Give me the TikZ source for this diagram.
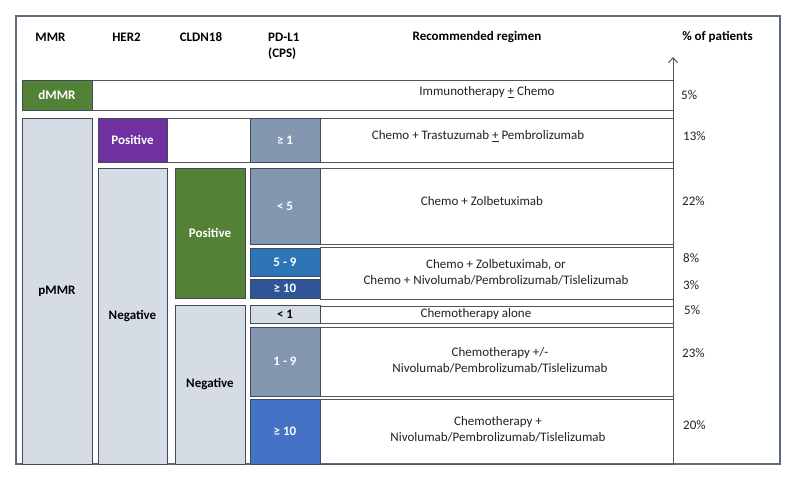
\documentclass[tikz,border=0pt]{standalone}
\usepackage{fontspec}
\setmainfont{Carlito}
\usetikzlibrary{arrows.meta}
\definecolor{grn}{HTML}{538135}
\definecolor{purp}{HTML}{7030A0}
\definecolor{slate}{HTML}{8497B0}
\definecolor{light}{HTML}{D6DCE5}
\definecolor{midblue}{HTML}{2E75B6}
\definecolor{darkblue}{HTML}{2F5597}
\definecolor{blue}{HTML}{4472C4}
\definecolor{bordc}{HTML}{3F4B5C}
\definecolor{rowc}{HTML}{555555}
\definecolor{framec}{HTML}{5A6A80}
\definecolor{txtc}{HTML}{222222}
\newcommand{\myfs}{\fontsize{13}{16}\selectfont}
\begin{document}
\begin{tikzpicture}[x=1pt,y=-1pt,
  box/.style={draw=bordc, line width=0.9pt, inner sep=0pt, font=\myfs\bfseries, text=white, anchor=center},
  rowbox/.style={draw=rowc, line width=0.8pt, inner sep=0pt},
  txt/.style={font=\myfs, text=txtc, align=center, inner sep=0pt},
  hdr/.style={font=\myfs\bfseries, inner sep=0pt},
  pct/.style={font=\myfs, anchor=west, inner sep=0pt, text=txtc}]
\useasboundingbox (0,0) rectangle (800,485);
\fill[white] (0,0) rectangle (800,485);
% frame
\node[draw=framec, line width=1.3pt, minimum width=764pt, minimum height=448pt, inner sep=0pt] (frame) at (398,240) {};
% headers
\node[hdr] (hmmr) at (50.5,37) {MMR};
\node[hdr] (hher) at (126.5,37) {HER2};
\node[hdr] (hcld) at (201,37) {CLDN18};
\node[hdr, anchor=west] (hpd) at (268,37) {PD-L1};
\node[hdr, anchor=west] (hcps) at (268,54) {(CPS)};
\node[hdr] (hreg) at (477,37) {Recommended regimen};
\node[hdr] (hpct) at (717.5,37) {\% of patients};
% row boxes
\node[rowbox, minimum width=581pt, minimum height=30pt] (r0) at (382.5,95) {};
\node[rowbox, minimum width=506pt, minimum height=44pt] (r1) at (420,140) {};
\node[rowbox, minimum width=353pt, minimum height=76pt] (r2) at (496.5,206) {};
\node[rowbox, minimum width=353pt, minimum height=52pt] (r3) at (496.5,273) {};
\node[rowbox, minimum width=353pt, minimum height=17pt] (r4) at (496.5,314.5) {};
\node[rowbox, minimum width=353pt, minimum height=69pt] (r5) at (496.5,361.5) {};
\node[rowbox, minimum width=353pt, minimum height=65pt] (r6) at (496.5,431.5) {};
% arrow
\coordinate (abot) at (673,464);
\coordinate (atop) at (673,57);
\draw[rowc, line width=1pt, -{Straight Barb[length=5pt,width=9pt]}] (abot) -- (atop);
% MMR
\node[box, fill=grn, minimum width=70pt, minimum height=30pt] (dmmr) at (57,95) {dMMR};
\node[box, fill=light, text=black, minimum width=70pt, minimum height=346pt] (pmmr) at (57,291) {pMMR};
% HER2
\node[box, fill=purp, minimum width=69pt, minimum height=44pt] (hpos) at (132.5,140) {Positive};
\node[box, fill=light, text=black, minimum width=69pt, minimum height=296pt] (hneg) at (132.5,316) {Negative};
% CLDN18
\node[box, fill=grn, minimum width=70pt, minimum height=130pt] (cpos) at (210,233) {Positive};
\node[box, fill=light, text=black, minimum width=70pt, minimum height=159pt] (cneg) at (210,384.5) {Negative};
% PD-L1
\node[box, fill=slate, minimum width=70pt, minimum height=44pt] (p1) at (285,140) {≥ 1};
\node[box, fill=slate, minimum width=70pt, minimum height=76pt] (p2) at (285,206) {< 5};
\node[box, fill=midblue, minimum width=70pt, minimum height=28pt] (p3) at (285,262) {5 - 9};
\node[box, fill=darkblue, minimum width=70pt, minimum height=19pt] (p4) at (285,288.5) {≥ 10};
\node[box, fill=light, text=black, minimum width=70pt, minimum height=18pt] (p5) at (285,314) {< 1};
\node[box, fill=slate, minimum width=70pt, minimum height=69pt] (p6) at (285,361.5) {1 - 9};
\node[box, fill=blue, minimum width=70pt, minimum height=65pt] (p7) at (285,431.5) {≥ 10};
% regimen texts
\node[txt] (t0) at (487,92) {Immunotherapy \underline{+} Chemo};
\node[txt] (t1) at (478,136) {Chemo + Trastuzumab \underline{+} Pembrolizumab};
\node[txt] (t2) at (482,201) {Chemo + Zolbetuximab};
\node[txt] (t3) at (496,272) {Chemo + Zolbetuximab, or\\Chemo + Nivolumab/Pembrolizumab/Tislelizumab};
\node[txt] (t4) at (476,314) {Chemotherapy alone};
\node[txt] (t5) at (500,360) {Chemotherapy +/-\\Nivolumab/Pembrolizumab/Tislelizumab};
\node[txt] (t6) at (498,429) {Chemotherapy +\\Nivolumab/Pembrolizumab/Tislelizumab};
% percentages
\node[pct] (c0) at (681,95) {5\%};
\node[pct] (c1) at (683,136) {13\%};
\node[pct] (c2) at (682,201) {22\%};
\node[pct] (c3) at (683,258) {8\%};
\node[pct] (c4) at (683,285) {3\%};
\node[pct] (c5) at (684,310) {5\%};
\node[pct] (c6) at (682,353) {23\%};
\node[pct] (c7) at (683,425) {20\%};
\end{tikzpicture}
\end{document}
